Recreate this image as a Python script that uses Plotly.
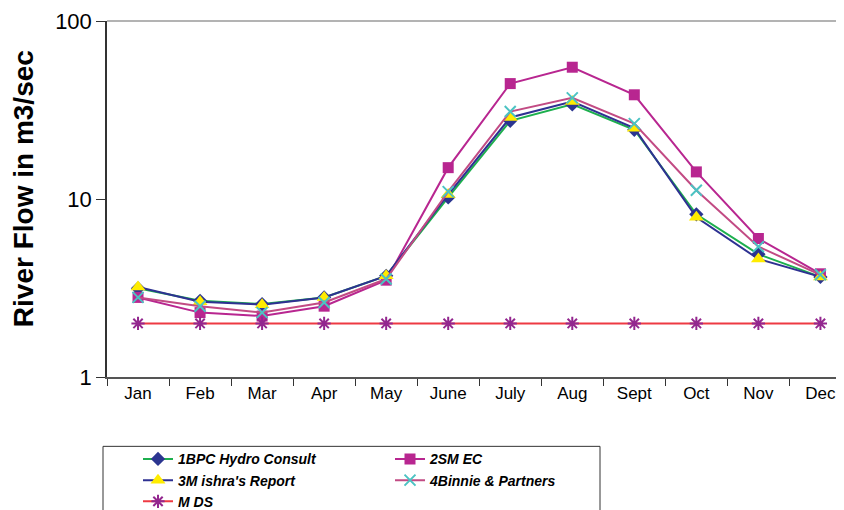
import plotly.graph_objects as go

months = ["Jan", "Feb", "Mar", "Apr", "May", "June", "July", "Aug", "Sept", "Oct", "Nov", "Dec"]
bpc = [3.15, 2.68, 2.57, 2.8, 3.7, 10.2, 27.5, 34.0, 24.5, 8.2, 4.9, 3.65]
smec = [2.8, 2.3, 2.2, 2.5, 3.5, 15.0, 44.5, 55.0, 38.5, 14.2, 6.0, 3.8]
mishra = [3.2, 2.65, 2.55, 2.8, 3.7, 10.6, 28.7, 35.3, 25.0, 7.9, 4.6, 3.65]
binnie = [2.8, 2.5, 2.3, 2.62, 3.55, 11.0, 31.0, 37.0, 26.5, 11.2, 5.4, 3.75]
mds = [2, 2, 2, 2, 2, 2, 2, 2, 2, 2, 2, 2]

# page body has an 8px margin; figure is sized so the window shows the chart like the reference
OFF = 8
W, H = 844 - OFF, 510 - OFF
L, R, T = 107 - OFF, 0, 21 - OFF
B = H - (376.7 - OFF)
plot_h = H - T - B
plot_w = W - L - R

fig = go.Figure()
fig.add_trace(go.Scatter(x=months, y=bpc, name="1BPC Hydro Consult", mode="lines+markers",
                         line=dict(color="#1DAF4E", width=2),
                         marker=dict(symbol="diamond", size=11, color="#2B3590")))
fig.add_trace(go.Scatter(x=months, y=smec, name="2SM EC", mode="lines+markers",
                         line=dict(color="#B82690", width=2),
                         marker=dict(symbol="square", size=11, color="#B82690")))
fig.add_trace(go.Scatter(x=months, y=mishra, name="3M ishra's Report", mode="lines+markers",
                         line=dict(color="#2E3192", width=2),
                         marker=dict(symbol="triangle-up", size=13, color="#FFEC00")))
fig.add_trace(go.Scatter(x=months, y=binnie, name="4Binnie & Partners", mode="lines+markers",
                         line=dict(color="#C24B84", width=2),
                         marker=dict(symbol="x-thin-open", size=11, color="#4BC3C3",
                                     line=dict(color="#4BC3C3", width=2))))
fig.add_trace(go.Scatter(x=months, y=mds, name="M DS", mode="lines+markers",
                         line=dict(color="#EE3A43", width=2),
                         marker=dict(symbol="asterisk-open", size=11, color="#93278F",
                                     line=dict(color="#93278F", width=2))))


def py(p):
    """window pixel y -> paper y"""
    return (H - B - (p - OFF)) / plot_h


def px(p):
    """window pixel x -> paper x"""
    return ((p - OFF) - L) / plot_w


fig.add_shape(type="rect", xref="paper", yref="paper",
              x0=px(103), x1=px(600), y0=py(520), y1=py(446),
              line=dict(color="#333333", width=1), fillcolor="rgba(0,0,0,0)")
fig.add_shape(type="line", xref="paper", yref="paper", x0=0, x1=1, y0=1, y1=1,
              line=dict(color="#9A9A9A", width=1.5))

fig.add_annotation(text="<b>River Flow in m3/sec</b>", textangle=-90,
                   xref="paper", yref="paper",
                   x=px(23.5), y=py(188.5),
                   xanchor="center", yanchor="middle", showarrow=False,
                   font=dict(family="Arial, Liberation Sans, sans-serif", size=28, color="#000000"))

fig.update_layout(
    width=W, height=H,
    margin=dict(l=L, r=R, t=T, b=B, autoexpand=False),
    paper_bgcolor="white", plot_bgcolor="white",
    showlegend=True,
    legend=dict(orientation="h", x=px(138), xanchor="left",
                y=py(443), yanchor="top",
                entrywidth=207, entrywidthmode="pixels",
                font=dict(family="Arial, Liberation Sans, sans-serif",
                          size=14, color="#000000", weight="bold", style="italic"),
                bgcolor="rgba(0,0,0,0)", traceorder="normal",
                tracegroupgap=0),
    xaxis=dict(type="category", range=[-0.5, 11.38], showgrid=False, zeroline=False,
               showline=True, linecolor="#555555", linewidth=2,
               ticks="outside", ticklen=7, tickcolor="#333333", tickson="boundaries",
               tickfont=dict(family="Arial, Liberation Sans, sans-serif", size=17, color="#000000")),
    yaxis=dict(type="log", range=[0, 2], showgrid=False, zeroline=False,
               showline=True, linecolor="#333333", linewidth=1.5,
               ticks="outside", ticklen=9, tickcolor="#333333",
               tickvals=[1, 10, 100], ticktext=["1", "10", "100"],
               tickfont=dict(family="Arial, Liberation Sans, sans-serif", size=22, color="#000000")),
)

fig.write_html("out.html")
